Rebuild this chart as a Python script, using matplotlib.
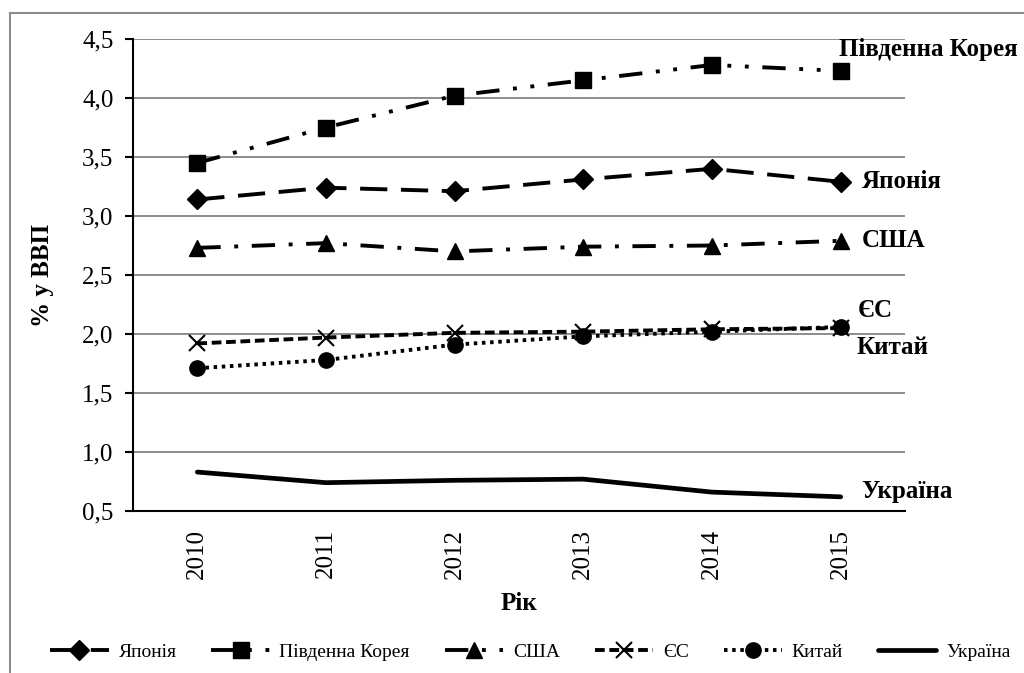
import matplotlib.pyplot as plt
from matplotlib.lines import Line2D

plt.rcParams['font.family'] = ['Liberation Serif', 'DejaVu Serif']

years = ["2010", "2011", "2012", "2013", "2014", "2015"]

japan = [3.14, 3.24, 3.21, 3.31, 3.40, 3.29]
korea = [3.45, 3.75, 4.02, 4.15, 4.28, 4.23]
usa = [2.73, 2.77, 2.70, 2.74, 2.75, 2.79]
eu = [1.92, 1.97, 2.01, 2.02, 2.04, 2.05]
china = [1.71, 1.78, 1.91, 1.98, 2.02, 2.06]
ukraine = [0.83, 0.74, 0.76, 0.77, 0.66, 0.62]

names = ["Японія", "Південна Корея", "США", "ЄС", "Китай", "Україна"]

fig = plt.figure(figsize=(10.24, 6.73), dpi=100)
ax = fig.add_axes([133 / 1024, 1 - 511 / 673, 772 / 1024, 472 / 673])

x = list(range(len(years)))
lw = 2.8

# line styles roughly like the Excel dash types
ax.plot(x, japan, color='black', lw=lw, dashes=(7, 3.5), marker='D', ms=10, label=names[0])
ax.plot(x, korea, color='black', lw=lw, dashes=(6, 3.5, 1, 3.5, 1, 3.5), marker='s', ms=11, label=names[1])
ax.plot(x, usa, color='black', lw=lw, dashes=(6, 3.5, 1, 3.5), marker='^', ms=12, label=names[2])
ax.plot(x, eu, color='black', lw=lw, dashes=(2.5, 1.2), marker='x', ms=11, mew=1.5, label=names[3])
ax.plot(x, china, color='black', lw=lw, dashes=(0.9, 1.2), marker='o', ms=11, label=names[4])
ax.plot(x, ukraine, color='black', lw=lw + 0.6, solid_capstyle='round', label=names[5])

ax.set_xlim(-0.5, 5.5)
ax.set_ylim(0.5, 4.5)
ax.set_yticks([0.5, 1.0, 1.5, 2.0, 2.5, 3.0, 3.5, 4.0, 4.5])
ax.set_yticklabels([f"{v:.1f}".replace('.', ',') for v in ax.get_yticks()])
ax.set_xticks(x)
ax.set_xticklabels(years, rotation=90)

ax.grid(axis='y', color='#8c8c8c', lw=1.4)
ax.set_axisbelow(True)
ax.spines['top'].set_visible(False)
ax.spines['right'].set_visible(False)
ax.spines['left'].set_linewidth(1.5)
ax.spines['bottom'].set_linewidth(1.5)
ax.tick_params(axis='y', labelsize=18, length=6, width=1.5, pad=8)
ax.tick_params(axis='x', labelsize=18, length=0, pad=13)

ax.set_xlabel("Рік", fontsize=18, fontweight='bold', labelpad=9)
ax.set_ylabel("% у ВВП", fontsize=18, fontweight='bold', labelpad=20)

# labels at the end of each line
series = [japan, korea, usa, eu, china, ukraine]
offsets = [(21, 0), (-2, 21), (21, 0), (17, 18), (16, -21), (21, 5)]
for name, vals, (dx, dy) in zip(names, series, offsets):
    ax.annotate(name, xy=(x[-1], vals[-1]), xytext=(dx, dy), textcoords='offset pixels',
                ha='left', va='center', fontsize=18, fontweight='bold', annotation_clip=False)

fig.legend(loc='center', bbox_to_anchor=(0.518, 1 - 652 / 673), ncol=6, frameon=False,
           fontsize=14, handlelength=3.0, handletextpad=0.5, columnspacing=1.8)

# thin gray frame around the chart
fig.add_artist(Line2D([10 / 1024, 1], [1 - 13 / 673, 1 - 13 / 673], color='#8c8c8c', lw=1.5))
fig.add_artist(Line2D([10 / 1024, 10 / 1024], [0, 1 - 13 / 673], color='#8c8c8c', lw=1.5))

fig.savefig("out.png", dpi=100)
